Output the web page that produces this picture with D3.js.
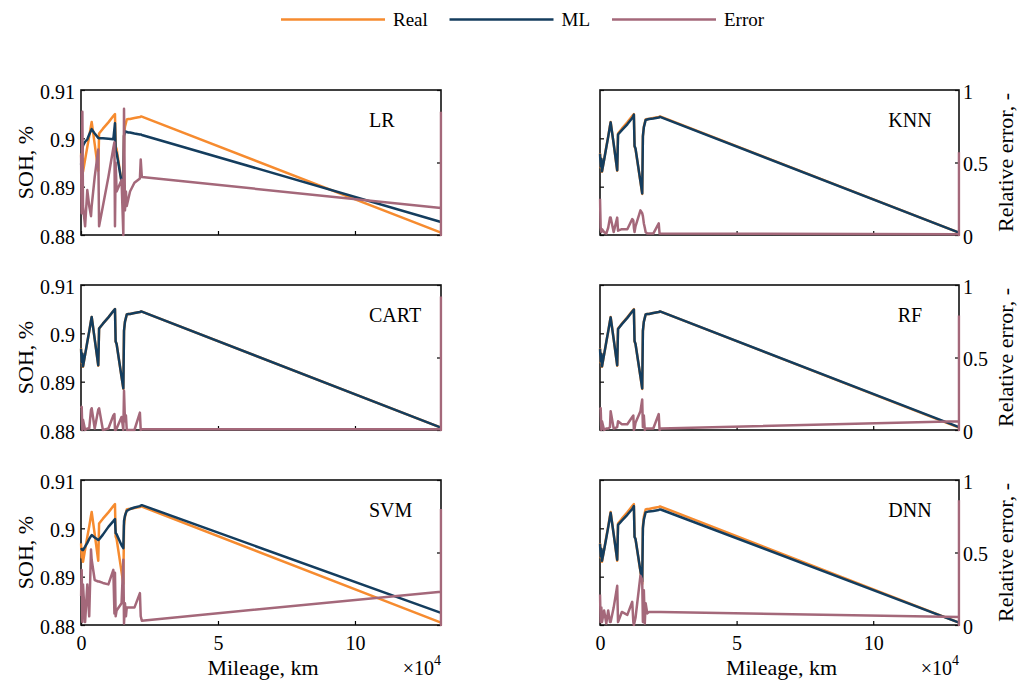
<!DOCTYPE html>
<html><head><meta charset="utf-8">
<script src="https://cdn.jsdelivr.net/npm/d3@7"></script>
<style>
body{margin:0;background:#fff}
svg{display:block}
svg text{font-family:'Liberation Serif','Times New Roman',Times,serif !important;fill:#000}
</style>
</head><body>
<svg id="chart" width="1032" height="681" font-family="Liberation Serif"></svg>
<script>
// ---------------- data ----------------
const mileage = [0,250,500,730,1500,2300,3000,3650,3900,5000,6300,6600,8000,10000,11800,12200,12400,12650,13000,14800,15450,15700,16050,16400,16700,17300,17900,19500,21500,21800,22200,131400,131400,131400];
const realSOH = [0.8969,0.8940,0.8958,0.8931,0.8956,0.8982,0.9004,0.9026,0.9034,0.8988,0.8933,0.9010,0.9020,0.9033,0.9046,0.9049,0.9050,0.8983,0.8978,0.8910,0.8885,0.9005,0.9024,0.9032,0.9039,0.9040,0.9040,0.9042,0.9044,0.9045,0.9045,0.8805,0.8805,0.8805];

const mlLR   = [0.8945,0.8960,0.8975,0.8985,0.8993,0.8998,0.9008,0.9016,0.9019,0.9010,0.9001,0.9000,0.9000,0.8999,0.8998,0.9020,0.9031,0.8975,0.8970,0.8910,0.8905,0.9005,0.9014,0.9014,0.9013,0.9012,0.9012,0.9010,0.9008,0.9008,0.9007,0.8827,0.8827,0.8827];
const mlKNN  = [0.8968,0.8942,0.8957,0.8932,0.8955,0.8981,0.9003,0.9025,0.9033,0.8989,0.8934,0.9008,0.9017,0.9029,0.9042,0.9046,0.9049,0.8984,0.8979,0.8911,0.8886,0.9004,0.9023,0.9031,0.9038,0.9039,0.9040,0.9041,0.9043,0.9044,0.9044,0.8805,0.8805,0.8805];
const mlCART = [0.8968,0.8941,0.8958,0.8932,0.8956,0.8982,0.9004,0.9026,0.9034,0.8988,0.8934,0.9010,0.9020,0.9033,0.9046,0.9049,0.9050,0.8983,0.8978,0.8910,0.8886,0.9005,0.9024,0.9032,0.9039,0.9040,0.9040,0.9042,0.9044,0.9045,0.9045,0.8805,0.8805,0.8805];
const mlRF   = [0.8968,0.8942,0.8957,0.8932,0.8956,0.8982,0.9004,0.9025,0.9033,0.8988,0.8934,0.9009,0.9019,0.9032,0.9045,0.9048,0.9049,0.8984,0.8978,0.8911,0.8886,0.9005,0.9024,0.9032,0.9039,0.9040,0.9040,0.9042,0.9044,0.9045,0.9045,0.8806,0.8806,0.8806];
const mlSVM  = [0.8959,0.8957,0.8955,0.8955,0.8962,0.8970,0.8978,0.8984,0.8986,0.8981,0.8976,0.8977,0.8987,0.9003,0.9015,0.9018,0.9019,0.8990,0.8988,0.8965,0.8959,0.9015,0.9026,0.9032,0.9036,0.9038,0.9040,0.9043,0.9046,0.9047,0.9048,0.8825,0.8825,0.8825];
const mlDNN  = [0.8968,0.8942,0.8957,0.8933,0.8955,0.8980,0.9002,0.9024,0.9032,0.8988,0.8935,0.9007,0.9016,0.9028,0.9040,0.9044,0.9046,0.8982,0.8978,0.8912,0.8890,0.9000,0.9018,0.9026,0.9033,0.9034,0.9035,0.9036,0.9038,0.9039,0.9039,0.8805,0.8805,0.8805];

const errLR   = [0.55,0.15,0.85,0.20,0.06,0.31,0.20,0.13,0.20,0.40,0.59,0.06,0.20,0.40,0.60,0.64,0.06,0.50,0.30,0.38,0.00,0.87,0.17,0.30,0.20,0.25,0.30,0.36,0.39,0.52,0.40,0.186,0.00,0.85];
const errKNN  = [0.25,0.05,0.02,0.04,0.02,0.01,0.05,0.12,0.12,0.02,0.12,0.03,0.04,0.04,0.11,0.10,0.05,0.02,0.06,0.17,0.15,0.13,0.08,0.05,0.02,0.01,0.01,0.01,0.08,0.01,0.01,0.005,0.00,0.57];
const errCART = [0.15,0.16,0.00,0.07,0.00,0.01,0.01,0.14,0.15,0.01,0.14,0.15,0.00,0.01,0.10,0.11,0.00,0.00,0.01,0.09,0.00,0.27,0.06,0.10,0.00,0.00,0.00,0.00,0.12,0.00,0.005,0.005,0.00,0.92];
const errRF   = [0.14,0.15,0.00,0.06,0.00,0.01,0.01,0.02,0.13,0.01,0.02,0.06,0.04,0.04,0.09,0.10,0.00,0.01,0.05,0.13,0.21,0.02,0.10,0.00,0.01,0.01,0.01,0.01,0.11,0.00,0.01,0.06,0.00,0.79];
const errSVM  = [0.20,0.38,0.02,0.28,0.02,0.28,0.06,0.52,0.45,0.31,0.30,0.30,0.29,0.28,0.38,0.08,0.36,0.06,0.10,0.15,0.45,0.01,0.15,0.06,0.12,0.12,0.12,0.12,0.22,0.06,0.03,0.23,0.00,0.80];
const errDNN  = [0.21,0.02,0.12,0.02,0.10,0.01,0.10,0.02,0.02,0.12,0.27,0.02,0.09,0.07,0.16,0.02,0.00,0.02,0.05,0.34,0.31,0.02,0.24,0.01,0.15,0.08,0.09,0.09,0.09,0.09,0.09,0.055,0.00,0.86];

const seriesNames = ["Real","ML","Error"];
const sohTicks = [0.88,0.89,0.90,0.91];
const sohTickLabels = ["0.88","0.89","0.9","0.91"];
const errTicks = [0,0.5,1];
const errTickLabels = ["0","0.5","1"];
const mileageTicks = [0,50000,100000];
const mileageTickLabels = ["0","5","10"];
const xLabel = "Mileage, km";
const yLabelLeft = "SOH, %";
const yLabelRight = "Relative error, -";

// ---------------- layout ----------------
const FONT = "Liberation Serif";
const colors = {Real:"#F68B2F", ML:"#143D5E", Error:"#A4687A"};
const svg = d3.select("#chart");
const colX = [[81,441],[600,959]];
const rowY = [[90,235],[285,430],[480,625]];
const panels = [
  {name:"LR",   ml:mlLR,   err:errLR},
  {name:"KNN",  ml:mlKNN,  err:errKNN},
  {name:"CART", ml:mlCART, err:errCART},
  {name:"RF",   ml:mlRF,   err:errRF},
  {name:"SVM",  ml:mlSVM,  err:errSVM},
  {name:"DNN",  ml:mlDNN,  err:errDNN}
];
const FS_TICK = 20, FS_LABEL = 22, FS_TITLE = 20;

function txt(sel){ return sel.attr("font-family",FONT).style("font-family",FONT); }

panels.forEach((p,i)=>{
  const col = i%2, row = Math.floor(i/2);
  const [x0,x1] = colX[col], [y0,y1] = rowY[row];
  const x = d3.scaleLinear().domain([0,131400]).range([x0,x1]);
  const yL = d3.scaleLinear().domain([0.88,0.91]).range([y1,y0]);
  const yR = d3.scaleLinear().domain([0,1]).range([y1,y0]);
  const g = svg.append("g");
  const cid = "clip"+i;
  g.append("clipPath").attr("id",cid).append("rect")
    .attr("x",x0-1.5).attr("y",y0-1.5).attr("width",x1-x0+3).attr("height",y1-y0+3);

  // axes (inward ticks)
  const axL = g.append("g").attr("transform",`translate(${x0},0)`)
    .call(d3.axisLeft(yL).tickValues(sohTicks)
      .tickFormat((d,k)=> col===0 ? sohTickLabels[k] : "")
      .tickSize(-4).tickPadding(6));
  const axR = g.append("g").attr("transform",`translate(${x1},0)`)
    .call(d3.axisRight(yR).tickValues(errTicks)
      .tickFormat((d,k)=> col===1 ? errTickLabels[k] : "")
      .tickSize(-4).tickPadding(4));
  const axB = g.append("g").attr("transform",`translate(0,${y1})`)
    .call(d3.axisBottom(x).tickValues(mileageTicks)
      .tickFormat((d,k)=> row===2 ? mileageTickLabels[k] : "")
      .tickSize(-4).tickPadding(10.5));
  [axL,axR,axB].forEach(a=>{
    a.attr("font-family",FONT).attr("font-size",FS_TICK);
    a.select(".domain").remove();
    a.selectAll(".tick line").attr("stroke","#000").attr("stroke-width",1.2);
    txt(a.selectAll("text")).style("font-size",FS_TICK+"px").attr("fill","#000");
  });
  axL.selectAll("text").attr("dy","0.4em");
  axR.selectAll("text").attr("dy","0.4em");

  // box
  g.append("rect").attr("x",x0).attr("y",y0).attr("width",x1-x0).attr("height",y1-y0)
    .attr("fill","none").attr("stroke","#111").attr("stroke-width",1.6);

  // lines drawn over the box, as in the reference
  const lineL = d3.line().x((d,k)=>x(mileage[k])).y(d=>yL(d));
  const lineR = d3.line().x((d,k)=>x(mileage[k])).y(d=>yR(d));
  const plot = g.append("g").attr("clip-path",`url(#${cid})`);
  plot.append("path").datum(realSOH).attr("d",lineL).attr("fill","none")
    .attr("stroke",colors.Real).attr("stroke-width",2.5).attr("stroke-linejoin","round");
  plot.append("path").datum(p.ml).attr("d",lineL).attr("fill","none")
    .attr("stroke",colors.ML).attr("stroke-width",2.5).attr("stroke-linejoin","round");
  plot.append("path").datum(p.err).attr("d",lineR).attr("fill","none")
    .attr("stroke",colors.Error).attr("stroke-width",2.5).attr("stroke-linejoin","round");

  // model label
  const t = txt(g.append("text")).text(p.name).attr("y",y0+37).style("font-size",FS_TITLE+"px");
  if(col===0){ t.attr("x",x0+288).attr("text-anchor","start"); }
  else { t.attr("x",x0+310).attr("text-anchor","middle"); }

  // axis labels
  if(col===0){
    txt(svg.append("text")).text(yLabelLeft)
      .attr("transform",`translate(33,${(y0+y1)/2}) rotate(-90)`)
      .attr("text-anchor","middle").style("font-size",FS_LABEL+"px");
  } else {
    txt(svg.append("text")).text(yLabelRight)
      .attr("transform",`translate(1013,${(y0+y1)/2}) rotate(-90)`)
      .attr("text-anchor","middle").style("font-size",FS_LABEL+"px");
  }
  if(row===2){
    txt(svg.append("text")).text(xLabel).attr("x",(x0+x1)/2+2).attr("y",675)
      .attr("text-anchor","middle").style("font-size",FS_LABEL+"px");
    const e = txt(svg.append("text")).attr("x",x1).attr("y",675).attr("text-anchor","end")
      .style("font-size",FS_TICK+"px");
    e.append("tspan").text("\u00d710");
    e.append("tspan").text("4").attr("dy",-10).style("font-size","14px");
  }
});

// legend
const legX = [281,449.5,612];
const lg = svg.append("g");
seriesNames.forEach((s,i)=>{
  lg.append("line").attr("x1",legX[i]).attr("x2",legX[i]+104).attr("y1",19.5).attr("y2",19.5)
    .attr("stroke",colors[s]).attr("stroke-width",2.6);
  txt(lg.append("text")).text(s).attr("x",legX[i]+112).attr("y",26).style("font-size","19px");
});
</script>
</body></html>
